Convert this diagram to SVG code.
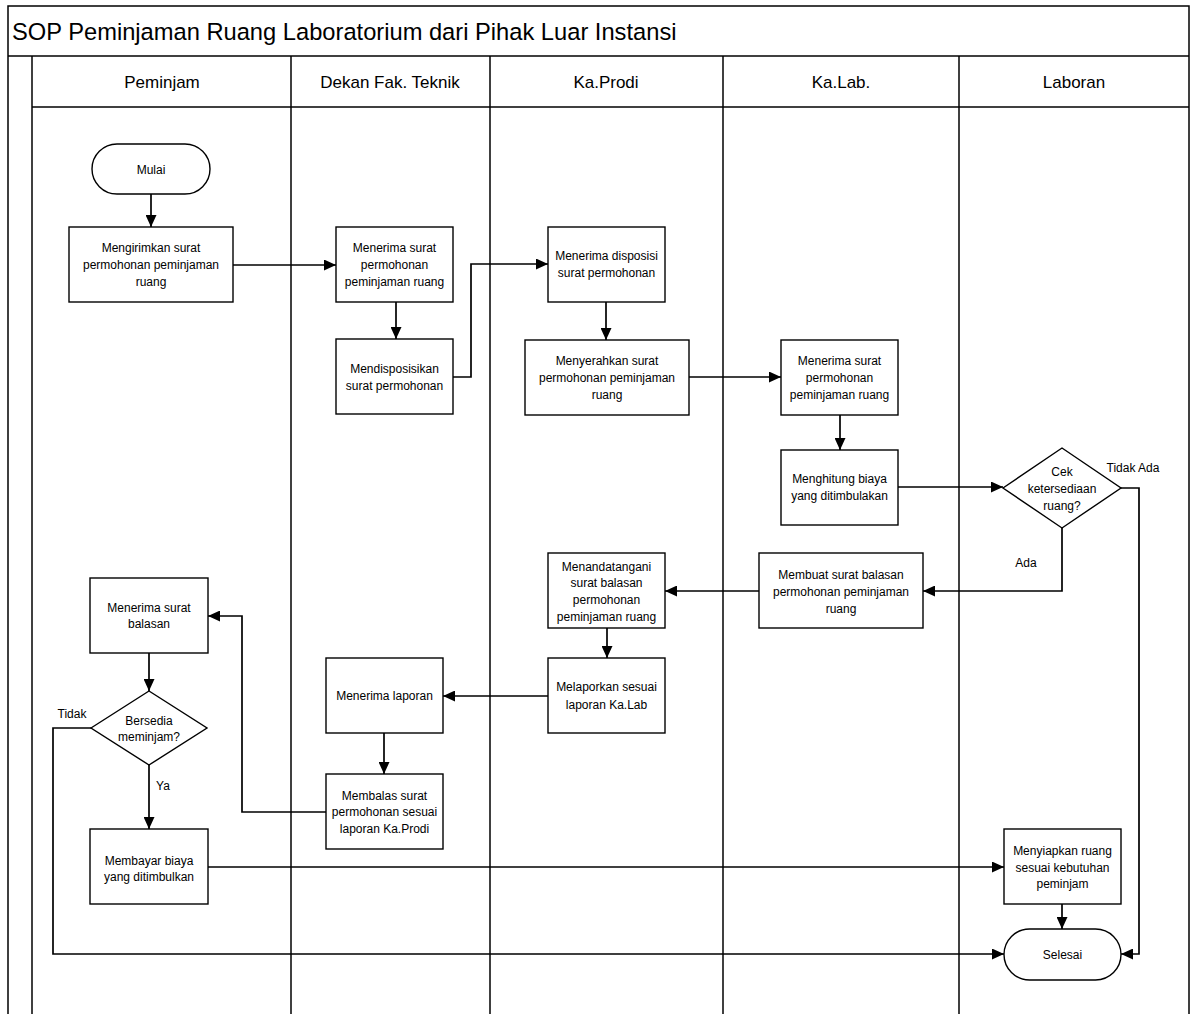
<svg xmlns="http://www.w3.org/2000/svg" width="1190" height="1014" viewBox="0 0 1190 1014">
<style>
text{font-family:"Liberation Sans",Arial,sans-serif;fill:#000}
.t{font-size:12px;text-anchor:middle}
.lab{font-size:12px}
.h{font-size:17px;text-anchor:middle}
.title{font-size:23.7px}
.box{fill:#fff;stroke:#000;stroke-width:1.4}
.lane{fill:none;stroke:#000;stroke-width:1.5}
.c{fill:none;stroke:#000;stroke-width:1.7}
</style>
<defs>
<marker id="arr" markerUnits="userSpaceOnUse" markerWidth="12" markerHeight="11" refX="12" refY="5.5" orient="auto">
<path d="M0,0 L12,5.5 L0,11 z" fill="#000"/>
</marker>
</defs>
<rect width="1190" height="1014" fill="#fff"/>
<g id="frame">
<rect class="lane" x="8" y="6" width="1181" height="1012"/>
<line class="lane" x1="8" y1="56" x2="1189" y2="56"/>
<line class="lane" x1="32" y1="56" x2="32" y2="1014"/>
<line class="lane" x1="32" y1="107" x2="1189" y2="107"/>
<line class="lane" x1="291" y1="56" x2="291" y2="1014"/>
<line class="lane" x1="490" y1="56" x2="490" y2="1014"/>
<line class="lane" x1="723" y1="56" x2="723" y2="1014"/>
<line class="lane" x1="959" y1="56" x2="959" y2="1014"/>
<text class="title" x="12" y="40">SOP Peminjaman Ruang Laboratorium dari Pihak Luar Instansi</text>
<text class="h" x="162" y="88">Peminjam</text>
<text class="h" x="390" y="88">Dekan Fak. Teknik</text>
<text class="h" x="606" y="88">Ka.Prodi</text>
<text class="h" x="841" y="88">Ka.Lab.</text>
<text class="h" x="1074" y="88">Laboran</text>
</g>
<g id="connectors">
<path class="c" d="M151 194 V227" marker-end="url(#arr)"/>
<path class="c" d="M233 265 H336" marker-end="url(#arr)"/>
<path class="c" d="M396 302 V339" marker-end="url(#arr)"/>
<path class="c" d="M453 377 H471 V264 H548" marker-end="url(#arr)"/>
<path class="c" d="M606 302 V340" marker-end="url(#arr)"/>
<path class="c" d="M689 377 H781" marker-end="url(#arr)"/>
<path class="c" d="M840 415 V450" marker-end="url(#arr)"/>
<path class="c" d="M898 487 H1003" marker-end="url(#arr)"/>
<path class="c" d="M1121 488 H1139 V954 H1121" marker-end="url(#arr)"/>
<path class="c" d="M1062 528 V591 H923" marker-end="url(#arr)"/>
<path class="c" d="M759 591 H665" marker-end="url(#arr)"/>
<path class="c" d="M607 628 V658" marker-end="url(#arr)"/>
<path class="c" d="M548 696 H443" marker-end="url(#arr)"/>
<path class="c" d="M384 733 V774" marker-end="url(#arr)"/>
<path class="c" d="M326 812 H242 V616 H208" marker-end="url(#arr)"/>
<path class="c" d="M149 653 V691" marker-end="url(#arr)"/>
<path class="c" d="M149 765 V829" marker-end="url(#arr)"/>
<path class="c" d="M91 728 H53 V954 H1004" marker-end="url(#arr)"/>
<path class="c" d="M208 867 H1004" marker-end="url(#arr)"/>
<path class="c" d="M1062 904 V929" marker-end="url(#arr)"/>
<text class="lab" x="1133" y="472" text-anchor="middle">Tidak Ada</text>
<text class="lab" x="1026" y="567" text-anchor="middle">Ada</text>
<text class="lab" x="72" y="718" text-anchor="middle">Tidak</text>
<text class="lab" x="163" y="790" text-anchor="middle">Ya</text>
</g>
<g id="mulai">
<rect class="box" x="92" y="144" width="118" height="50" rx="25" ry="25"/>
<text class="t" x="151" y="174">Mulai</text>
</g>
<g id="mengirimkan">
<rect class="box" x="69" y="227" width="164" height="75"/>
<text class="t" x="151" y="252">Mengirimkan surat</text>
<text class="t" x="151" y="269">permohonan peminjaman</text>
<text class="t" x="151" y="286">ruang</text>
</g>
<g id="dekan-menerima">
<rect class="box" x="336" y="227" width="117" height="75"/>
<text class="t" x="394.5" y="252">Menerima surat</text>
<text class="t" x="394.5" y="269">permohonan</text>
<text class="t" x="394.5" y="286">peminjaman ruang</text>
</g>
<g id="mendisposisikan">
<rect class="box" x="336" y="339" width="117" height="75"/>
<text class="t" x="394.5" y="373">Mendisposisikan</text>
<text class="t" x="394.5" y="390">surat permohonan</text>
</g>
<g id="prodi-menerima">
<rect class="box" x="548" y="227" width="117" height="75"/>
<text class="t" x="606.5" y="260">Menerima disposisi</text>
<text class="t" x="606.5" y="277">surat permohonan</text>
</g>
<g id="menyerahkan">
<rect class="box" x="525" y="340" width="164" height="75"/>
<text class="t" x="607" y="365">Menyerahkan surat</text>
<text class="t" x="607" y="382">permohonan peminjaman</text>
<text class="t" x="607" y="399">ruang</text>
</g>
<g id="kalab-menerima">
<rect class="box" x="781" y="340" width="117" height="75"/>
<text class="t" x="839.5" y="365">Menerima surat</text>
<text class="t" x="839.5" y="382">permohonan</text>
<text class="t" x="839.5" y="399">peminjaman ruang</text>
</g>
<g id="menghitung">
<rect class="box" x="781" y="450" width="117" height="75"/>
<text class="t" x="839.5" y="483">Menghitung biaya</text>
<text class="t" x="839.5" y="500">yang ditimbulakan</text>
</g>
<g id="cek">
<path class="box" d="M1003 488 L1062 448 L1121 488 L1062 528 Z"/>
<text class="t" x="1062" y="476">Cek</text>
<text class="t" x="1062" y="493">ketersediaan</text>
<text class="t" x="1062" y="510">ruang?</text>
</g>
<g id="membuat">
<rect class="box" x="759" y="553" width="164" height="75"/>
<text class="t" x="841" y="579">Membuat surat balasan</text>
<text class="t" x="841" y="596">permohonan peminjaman</text>
<text class="t" x="841" y="613">ruang</text>
</g>
<g id="menandatangani">
<rect class="box" x="548" y="553" width="117" height="75"/>
<text class="t" x="606.5" y="571">Menandatangani</text>
<text class="t" x="606.5" y="587">surat balasan</text>
<text class="t" x="606.5" y="604">permohonan</text>
<text class="t" x="606.5" y="621">peminjaman ruang</text>
</g>
<g id="melaporkan">
<rect class="box" x="548" y="658" width="117" height="75"/>
<text class="t" x="606.5" y="691">Melaporkan sesuai</text>
<text class="t" x="606.5" y="709">laporan Ka.Lab</text>
</g>
<g id="menerima-laporan">
<rect class="box" x="326" y="658" width="117" height="75"/>
<text class="t" x="384.5" y="700">Menerima laporan</text>
</g>
<g id="membalas">
<rect class="box" x="326" y="774" width="117" height="75"/>
<text class="t" x="384.5" y="800">Membalas surat</text>
<text class="t" x="384.5" y="816">permohonan sesuai</text>
<text class="t" x="384.5" y="833">laporan Ka.Prodi</text>
</g>
<g id="menerima-balasan">
<rect class="box" x="90" y="578" width="118" height="75"/>
<text class="t" x="149" y="612">Menerima surat</text>
<text class="t" x="149" y="628">balasan</text>
</g>
<g id="bersedia">
<path class="box" d="M91 728 L149 691 L207 728 L149 765 Z"/>
<text class="t" x="149" y="725">Bersedia</text>
<text class="t" x="149" y="741">meminjam?</text>
</g>
<g id="membayar">
<rect class="box" x="90" y="829" width="118" height="75"/>
<text class="t" x="149" y="865">Membayar biaya</text>
<text class="t" x="149" y="881">yang ditimbulkan</text>
</g>
<g id="menyiapkan">
<rect class="box" x="1004" y="829" width="117" height="75"/>
<text class="t" x="1062.5" y="855">Menyiapkan ruang</text>
<text class="t" x="1062.5" y="872">sesuai kebutuhan</text>
<text class="t" x="1062.5" y="888">peminjam</text>
</g>
<g id="selesai">
<rect class="box" x="1004" y="929" width="117" height="51" rx="25.5" ry="25.5"/>
<text class="t" x="1062.5" y="959">Selesai</text>
</g>
</svg>
